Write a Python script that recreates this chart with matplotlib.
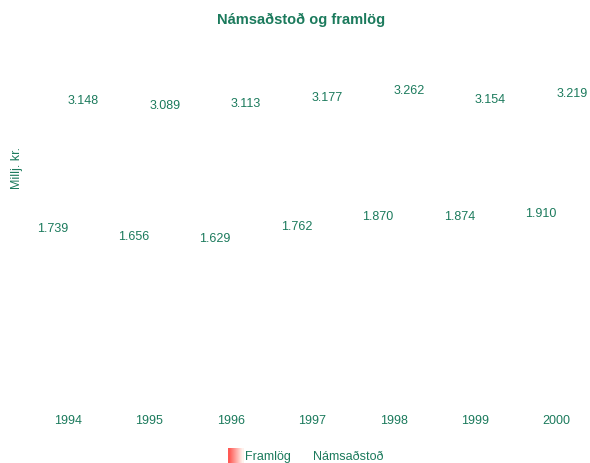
import numpy as np
import matplotlib
matplotlib.use("Agg")
import matplotlib.pyplot as plt
from matplotlib.legend_handler import HandlerBase
from matplotlib.patches import Rectangle

# data
years = ['1994', '1995', '1996', '1997', '1998', '1999', '2000']
framlog = [1.739, 1.656, 1.629, 1.762, 1.870, 1.874, 1.910]
namsadstod = [3.148, 3.089, 3.113, 3.177, 3.262, 3.154, 3.219]

green = '#1b7a5c'
plt.rcParams['font.family'] = ['Liberation Sans Narrow', 'Liberation Sans', 'DejaVu Sans']


class GradientHandler(HandlerBase):
    # red to white strip, like the original legend key
    def create_artists(self, legend, orig_handle, xdescent, ydescent,
                       width, height, fontsize, trans):
        n = 14
        w = width
        h = height * 2.0
        arts = []
        for k in range(n):
            t = k / (n - 1)
            c = (1.0, 0.35 + 0.6 * t, 0.33 + 0.6 * t)
            arts.append(Rectangle((k * w / n - xdescent, -ydescent - height * 0.7), w / n + 0.2, h,
                                  facecolor=c, edgecolor='none', transform=trans))
        return arts


class BlankHandler(HandlerBase):
    def create_artists(self, legend, orig_handle, xdescent, ydescent,
                       width, height, fontsize, trans):
        return [Rectangle((0, 0), 1, 1, visible=False, transform=trans)]


fig = plt.figure(figsize=(5.9, 4.64), dpi=100)
ax = fig.add_axes([27 / 590, 78 / 464, 563 / 590, 364 / 464])

x = np.arange(len(years))
off = 0.19
b1 = ax.bar(x - off, framlog, width=0.38, color='white')
b2 = ax.bar(x + off, namsadstod, width=0.38, color='white')

for xi, v in zip(x - off, framlog):
    ax.text(xi, v - 0.015, f'{v:.3f}', ha='center', va='center', color=green, fontsize=9)
for xi, v in zip(x + off, namsadstod):
    ax.text(xi, v - 0.015, f'{v:.3f}', ha='center', va='center', color=green, fontsize=9)

ax.set_xlim(-0.5, 6.41)
ax.set_ylim(0, 4)
ax.set_xticks(x)
ax.set_xticklabels(years, color=green, fontsize=9)
ax.tick_params(axis='x', length=0, pad=21)
ax.set_yticks([])
for s in ax.spines.values():
    s.set_visible(False)

fig.text(17 / 590, 1 - 168 / 464, 'Millj. kr.', rotation=90, ha='center', va='center',
         color=green, fontsize=9)
fig.text(301 / 590, 1 - 20 / 464, 'Námsaðstoð og framlög', ha='center', va='center',
         color=green, fontsize=10.5, fontweight='bold')

leg = fig.legend([b1, b2], ['Framlög', 'Námsaðstoð'], loc='center', bbox_to_anchor=(306 / 590, 1 - 457 / 464),
                 ncol=2, frameon=False, fontsize=9, handlelength=1.2, handletextpad=0.15, columnspacing=0.4,
                 handler_map={b1: GradientHandler(), b2: BlankHandler()})
for t in leg.get_texts():
    t.set_color(green)

fig.savefig('out.png', dpi=100)
